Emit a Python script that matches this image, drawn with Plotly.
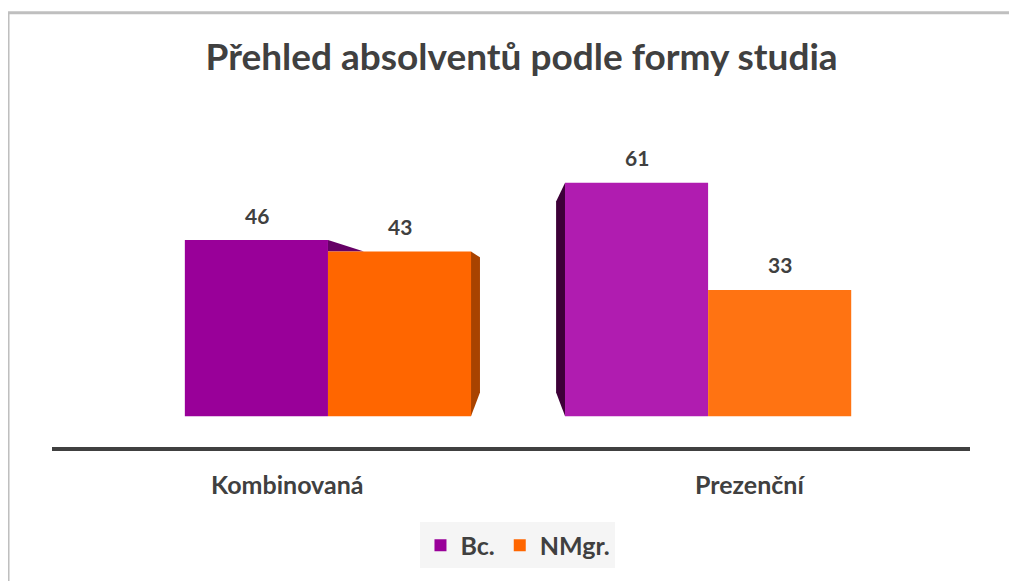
import plotly.graph_objects as go

categories = ["Kombinovaná", "Prezenční"]
bc_values = [46, 61]
nmgr_values = [43, 33]

BC_COLORS = ["#990099", "#B01CB0"]
NMGR_COLORS = ["#FF6600", "#FF7312"]
TEXT = "#404040"
FONT = "Lato"

fig = go.Figure()
fig.add_trace(go.Bar(x=categories, y=bc_values, name="Bc.",
                     marker=dict(color=BC_COLORS, line_width=0)))
fig.add_trace(go.Bar(x=categories, y=nmgr_values, name="NMgr.",
                     marker=dict(color=NMGR_COLORS, line_width=0)))

# thin "3D" side faces, anchored to the category and scaled to the bar values
def side_face(cat, edge, depth, top, drop, color):
    path = (f"M{edge},{top} L{edge + depth},{top - drop} "
            f"L{edge + depth},6.2 L{edge},0 Z")
    fig.add_shape(type="path", xref="x", yref="y", xsizemode="pixel",
                  xanchor=cat, path=path, fillcolor=color, line_width=0, layer="below")

side_face(categories[0], 143, 9, nmgr_values[0], 1.5, "#A84300")
side_face(categories[1], -143, -9, bc_values[1], 4.9, "#3D0038")
fig.add_shape(type="path", xref="x", yref="y", xsizemode="pixel", xanchor=categories[0],
              path=f"M0,{bc_values[0]} L36,{nmgr_values[0]} L0,{nmgr_values[0]} Z",
              fillcolor="#660066", line_width=0, layer="below")

# value labels above the bars
for vals, shift in [(bc_values, -71), (nmgr_values, 72)]:
    for cat, v in zip(categories, vals):
        fig.add_annotation(x=cat, y=v, xref="x", yref="y", text=str(v),
                           showarrow=False, xshift=shift, yshift=25,
                           font=dict(family=FONT, size=21, color=TEXT, weight="bold"))

# category labels below the floor line
for cat, shift in zip(categories, [-41, 42]):
    fig.add_annotation(x=cat, y=0, xref="x", yref="paper", text=cat,
                       showarrow=False, xshift=shift, yshift=-54,
                       font=dict(family=FONT, size=25, color=TEXT, weight="bold"))

# chart border (left and top edges)
fig.add_shape(type="line", xref="paper", yref="paper", x0=-0.0479, x1=-0.0479,
              y0=-0.5, y1=1.328, line=dict(color="#BFBFBF", width=3))
fig.add_shape(type="line", xref="paper", yref="paper", x0=-0.0479, x1=1.1,
              y0=1.328, y1=1.328, line=dict(color="#BFBFBF", width=3))

fig.update_layout(
    width=1009, height=573,
    margin=dict(l=44, r=47, t=112, b=129),
    paper_bgcolor="white", plot_bgcolor="white",
    barmode="group", bargap=0.247, bargroupgap=0,
    title=dict(text="Přehled absolventů podle formy studia", x=0.509, xanchor="center",
               y=0.914, yanchor="middle",
               font=dict(family=FONT, size=37, color=TEXT, weight="bold")),
    legend=dict(orientation="h", x=0.5076, xanchor="center", y=-0.301, yanchor="middle",
                bgcolor="#F5F5F5", font=dict(family=FONT, size=25, color=TEXT, weight="bold"),
                itemwidth=30),
    showlegend=True,
)
fig.update_xaxes(range=[-0.726, 1.689], showticklabels=False, ticks="",
                 showline=True, linecolor=TEXT, linewidth=4, showgrid=False)
fig.update_yaxes(range=[-8, 77.35], visible=False, showgrid=False, zeroline=False)

fig.write_html("out.html")
